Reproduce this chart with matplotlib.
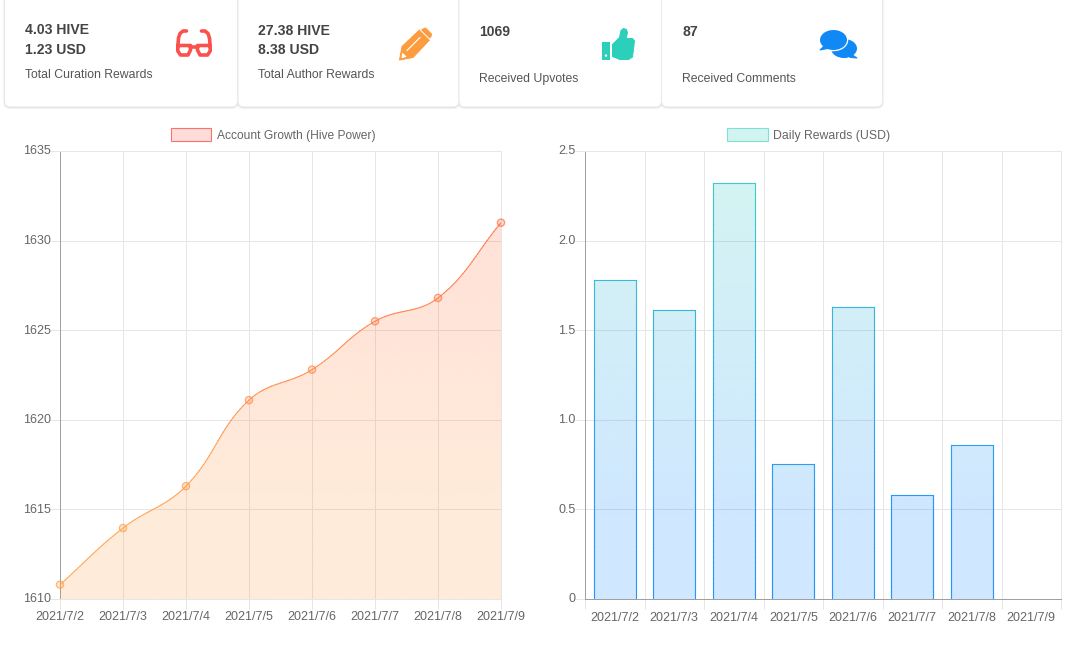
"""Rewards dashboard: stat cards, account growth line, daily rewards bars."""

import matplotlib

matplotlib.use("Agg")

import matplotlib.pyplot as plt
import numpy as np
from matplotlib.bezier import BezierSegment
from matplotlib.collections import LineCollection
from matplotlib.colors import to_rgb
from matplotlib.patches import Circle, Ellipse, FancyBboxPatch, PathPatch, Polygon, Rectangle
from matplotlib.path import Path
from matplotlib.transforms import ScaledTranslation

WIDTH, HEIGHT = 1074, 657
PT = 0.72  # one pixel in points at dpi 100

dates = ["2021/7/2", "2021/7/3", "2021/7/4", "2021/7/5", "2021/7/6", "2021/7/7", "2021/7/8", "2021/7/9"]
hive_power = [1610.8, 1613.96, 1616.3, 1621.1, 1622.8, 1625.5, 1626.8, 1631.0]
daily_usd = [1.78, 1.615, 2.32, 0.755, 1.627, 0.58, 0.86]

hive_ticks = [1610, 1615, 1620, 1625, 1630, 1635]
usd_ticks = [0, 0.5, 1.0, 1.5, 2.0, 2.5]
usd_tick_labels = ["0", "0.5", "1.0", "1.5", "2.0", "2.5"]

RED = "#ff5a3c"
ORANGE = "#ff9f43"
TEAL = "#2bcfba"
BLUE = "#1089ff"
GRID = "#e6e6e6"
AXIS = "#a0a0a0"
TICK_TEXT = "#666666"
HEAD_TEXT = "#444444"
SUB_TEXT = "#555555"
TICK_SIZE = 9.0

# the colour ramps run between these page rows, not over the whole plot
RAMP_START, RAMP_END = 140, 515
PLOT_TOP, PLOT_BOTTOM = 151, 599

plt.rcParams["font.family"] = ["Liberation Sans", "DejaVu Sans"]

fig = plt.figure(figsize=(WIDTH / 100, HEIGHT / 100), dpi=100, facecolor="white")

# overlay in reference pixels for the cards, icons and legends
page = fig.add_axes([0, 0, 1, 1], zorder=3)
page.set_xlim(0, WIDTH)
page.set_ylim(HEIGHT, 0)
page.axis("off")
page.patch.set_alpha(0)


def axes_at(x0, y0, x1, y1):
    return fig.add_axes([x0 / WIDTH, 1 - y1 / HEIGHT, (x1 - x0) / WIDTH, (y1 - y0) / HEIGHT])


def ramp_colour(frac_down, top, bottom):
    """Colour at a fraction of the plot height, measured from its top."""
    row = PLOT_TOP + np.asarray(frac_down, dtype=float) * (PLOT_BOTTOM - PLOT_TOP)
    t = np.clip((row - RAMP_START) / (RAMP_END - RAMP_START), 0, 1)[..., None]
    return (1 - t) * np.array(to_rgb(top)) + t * np.array(to_rgb(bottom))


def gradient_image(ax, top, bottom, alpha, clip, zorder=2):
    ramp = ramp_colour(np.linspace(0, 1, 256), top, bottom)
    rgba = np.dstack([ramp[:, None, :], np.full((256, 1), alpha)])
    x0, x1 = ax.get_xlim()
    y0, y1 = ax.get_ylim()
    im = ax.imshow(rgba, extent=(x0, x1, y0, y1), origin="upper", aspect="auto",
                   interpolation="bilinear", zorder=zorder)
    im.set_clip_path(clip)
    ax.set_xlim(x0, x1)
    ax.set_ylim(y0, y1)
    return im


def colour_at(y, ax, top, bottom):
    y0, y1 = ax.get_ylim()
    return ramp_colour((y1 - np.asarray(y, dtype=float)) / (y1 - y0), top, bottom)


def gradient_line(ax, xs, ys, top, bottom, width=1.0, fade=0.0, zorder=3):
    xs, ys = np.asarray(xs, dtype=float), np.asarray(ys, dtype=float)
    pts = np.column_stack([xs, ys])
    segs = np.stack([pts[:-1], pts[1:]], axis=1)
    rgb = colour_at((ys[:-1] + ys[1:]) / 2, ax, top, bottom)
    rgb = rgb * (1 - fade) + fade
    lc = LineCollection(segs, colors=rgb, linewidths=width * PT, zorder=zorder, capstyle="projecting")
    ax.add_collection(lc, autolim=False)


def spline_through(ax, xs, ys, tension=0.4, steps=30):
    """Bezier spline through the points, tension worked out in screen space."""
    pts = ax.transData.transform(np.column_stack([xs, ys]))
    out = [pts[:1]]
    n = len(pts)
    before, after = [], []
    for i in range(n):
        p0, p1, p2 = pts[max(i - 1, 0)], pts[i], pts[min(i + 1, n - 1)]
        d01, d12 = np.hypot(*(p1 - p0)), np.hypot(*(p2 - p1))
        total = d01 + d12
        before.append(p1 - tension * d01 / total * (p2 - p0))
        after.append(p1 + tension * d12 / total * (p2 - p0))
    t = np.linspace(0, 1, steps)[1:]
    for i in range(n - 1):
        seg = BezierSegment(np.array([pts[i], after[i], before[i + 1], pts[i + 1]]))
        out.append(seg(t))
    return ax.transData.inverted().transform(np.vstack(out))


def style_axes(ax, baseline):
    ax.set_axisbelow(True)
    ax.grid(True, which="major", axis="y", color=GRID, linewidth=PT)
    for side in ("top", "right"):
        ax.spines[side].set_color(GRID)
    ax.spines["bottom"].set_color(baseline)
    ax.spines["left"].set_color(AXIS)
    for spine in ax.spines.values():
        spine.set_linewidth(PT)
    ax.tick_params(axis="y", length=10 * PT, width=PT, color=GRID, pad=0,
                   labelsize=TICK_SIZE, labelcolor=TICK_TEXT)
    ax.tick_params(axis="x", which="major", labelsize=TICK_SIZE, labelcolor=TICK_TEXT)


def lift_y_labels(ax, pixels=1.2):
    shift = ScaledTranslation(0.6 / 100, pixels / 100, fig.dpi_scale_trans)
    for label in ax.get_yticklabels():
        label.set_transform(label.get_transform() + shift)


# account growth
growth = axes_at(60, PLOT_TOP, 501, PLOT_BOTTOM)
growth.set_xlim(0, 7)
growth.set_ylim(1610, 1635)
style_axes(growth, GRID)
positions = np.arange(len(dates))
growth.set_xticks(positions, dates)
growth.set_yticks(hive_ticks, [str(v) for v in hive_ticks])
growth.tick_params(axis="x", length=10 * PT, width=PT, color=GRID, pad=1.8)
growth.grid(True, which="major", axis="x", color=GRID, linewidth=PT)
lift_y_labels(growth)

curve = spline_through(growth, positions, hive_power)
area = Polygon(np.vstack([curve, [[7, 1610], [0, 1610]]]), closed=True, transform=growth.transData,
               facecolor="none", edgecolor="none")
growth.add_patch(area)
gradient_image(growth, RED, ORANGE, 0.2, area, zorder=2.6)
gradient_line(growth, curve[:, 0], curve[:, 1], RED, ORANGE, width=1.0, fade=0.1)
marker_rgb = colour_at(hive_power, growth, RED, ORANGE)
growth.scatter(positions, hive_power, s=27, facecolors=np.column_stack([marker_rgb, np.full(8, 0.25)]),
               edgecolors=np.column_stack([marker_rgb, np.full(8, 0.7)]), linewidths=1.3 * PT,
               zorder=4, clip_on=False)

# daily rewards
rewards = axes_at(585, PLOT_TOP, 1061, PLOT_BOTTOM)
rewards.set_xlim(-0.5, 7.5)
rewards.set_ylim(0, 2.5)
style_axes(rewards, AXIS)
rewards.set_xticks(positions, dates)
rewards.set_xticks(np.arange(len(dates) + 1) - 0.5, minor=True)
rewards.tick_params(axis="x", which="major", length=0, pad=9.3)
rewards.tick_params(axis="x", which="minor", length=10 * PT, width=PT, color=GRID)
rewards.grid(True, which="minor", axis="x", color=GRID, linewidth=PT)
rewards.set_yticks(usd_ticks, usd_tick_labels)
rewards.get_yticklines()[0].set_color(AXIS)
lift_y_labels(rewards)

bars = rewards.bar(positions[:len(daily_usd)], daily_usd, width=0.7, facecolor="none", edgecolor="none")
for rect, value in zip(bars, daily_usd):
    gradient_image(rewards, TEAL, BLUE, 0.2, rect)
    left, right = rect.get_x(), rect.get_x() + rect.get_width()
    ys = np.linspace(0, value, 80)
    gradient_line(rewards, np.full(80, left), ys, TEAL, BLUE, width=1.1, fade=0.1)
    gradient_line(rewards, np.full(80, right), ys, TEAL, BLUE, width=1.1, fade=0.1)
    gradient_line(rewards, [left, right], [value, value], TEAL, BLUE, width=1.1, fade=0.1)


# stat cards
def card(x0, x1, head, label, xt, ys, label_y):
    for grow, alpha in ((1.6, 0.025), (0.9, 0.04), (0.3, 0.06)):
        page.add_patch(FancyBboxPatch((x0 - grow, -6 + 0.7), x1 - x0 + 2 * grow, 113 + grow,
                                      boxstyle="round,pad=0,rounding_size=7", facecolor="black",
                                      edgecolor="none", alpha=alpha, zorder=1))
    page.add_patch(FancyBboxPatch((x0, -6), x1 - x0, 113, boxstyle="round,pad=0,rounding_size=6",
                                  facecolor="white", edgecolor="#e9e9e9", linewidth=PT, zorder=2))
    for text, y in zip(head, ys):
        page.text(xt, y, text, fontsize=10.08, fontweight="bold", color=HEAD_TEXT,
                  ha="left", va="center", zorder=5)
    page.text(xt, label_y, label, fontsize=8.85, color=SUB_TEXT, ha="left", va="center", zorder=5)


card(4.5, 237.5, ["4.03 HIVE", "1.23 USD"], "Total Curation Rewards", 25, [30, 50], 74.5)
card(238, 459, ["27.38 HIVE", "8.38 USD"], "Total Author Rewards", 258, [31, 50.5], 74.5)
card(459, 661.5, ["1069"], "Received Upvotes", 479.3, [31.5], 79)
card(661.5, 882.5, ["87"], "Received Comments", 682.3, [31.5], 79)


def stroke(points, color, width):
    codes = [Path.MOVETO] + [Path.LINETO] * (len(points) - 1)
    page.add_patch(PathPatch(Path(points, codes), facecolor="none", edgecolor=color,
                             linewidth=width * PT, capstyle="round", joinstyle="round", zorder=6))


def blob(points, color, z=6):
    page.add_patch(Polygon(points, closed=True, facecolor=color, edgecolor=color, linewidth=PT,
                           joinstyle="round", zorder=z))


# glasses icon
GLASS = "#f9524c"
for sign in (1, -1):
    fx = lambda v: 194 + sign * v
    stroke([(fx(-7.5), 31), (fx(-11), 31), (fx(-14), 33.5), (fx(-15.5), 38), (fx(-16.2), 47)], GLASS, 3.6)
    stroke([(fx(-16.2), 45.5), (fx(-3.5), 45.5), (fx(-3.5), 50), (fx(-6), 55), (fx(-13.5), 55),
            (fx(-16.2), 51), (fx(-16.2), 45.5)], GLASS, 3.6)
stroke([(190, 46.5), (198, 46.5)], GLASS, 3.6)

# pencil icon
PENCIL = "#fd9c3f"
blob([(399.5, 60), (402, 46.5), (419.5, 30), (429.5, 40), (413, 57.5)], PENCIL)
blob([(423, 29), (425.5, 28), (431.5, 34), (431, 36.5), (429, 38.5), (421, 30.5)], PENCIL)
page.plot([420.4, 430], [30, 39.6], color="white", linewidth=1.0 * PT, zorder=7)
stroke([(407, 50.5), (420, 37.5)], "white", 1.2)
blob([(402.6, 53.5), (405.8, 56.6), (402, 57.6)], "white", z=7)

# thumbs up icon
THUMB = "#2bcfba"
page.add_patch(Rectangle((602, 42), 8.2, 18, facecolor=THUMB, edgecolor="none", zorder=6))
page.add_patch(Circle((606, 55.6), 1.2, facecolor="white", edgecolor="none", zorder=7))
blob([(612.5, 44.5), (619.5, 37.5), (621, 30.5), (623.5, 28.5), (626.5, 29.5), (627.5, 33),
      (626, 38.5), (632.5, 38.5), (634.5, 41), (632.5, 57), (628.5, 59.5), (620, 59.5),
      (612.5, 56.5)], THUMB)

# chat icon
CHAT = "#1089f5"
page.add_patch(Ellipse((844, 48.5), 26, 19, facecolor=CHAT, edgecolor="none", zorder=6))
blob([(851, 54), (857, 58), (850, 57.5)], CHAT)
page.add_patch(Ellipse((833.5, 40), 29.5, 22.5, facecolor="white", edgecolor="none", zorder=6))
page.add_patch(Ellipse((833.5, 40), 27, 20, facecolor=CHAT, edgecolor="none", zorder=7))
blob([(824, 46), (820, 50), (828, 48.5)], CHAT, z=7)


# chart legends
def legend_entry(x0, fill, edge, label, size):
    page.add_patch(Rectangle((x0, 128), 40.5, 13, facecolor=fill, edgecolor=edge, linewidth=PT * 1.1, zorder=5))
    page.text(x0 + 46.3, 135.5, label, fontsize=size, color=TICK_TEXT, ha="left", va="center", zorder=5)


legend_entry(170.5, "#fddcd9", "#f8756e", "Account Growth (Hive Power)", 8.64)
legend_entry(727, "#d2f4f0", "#7fe0d5", "Daily Rewards (USD)", 8.8)

fig.savefig("out.png", dpi=100)
